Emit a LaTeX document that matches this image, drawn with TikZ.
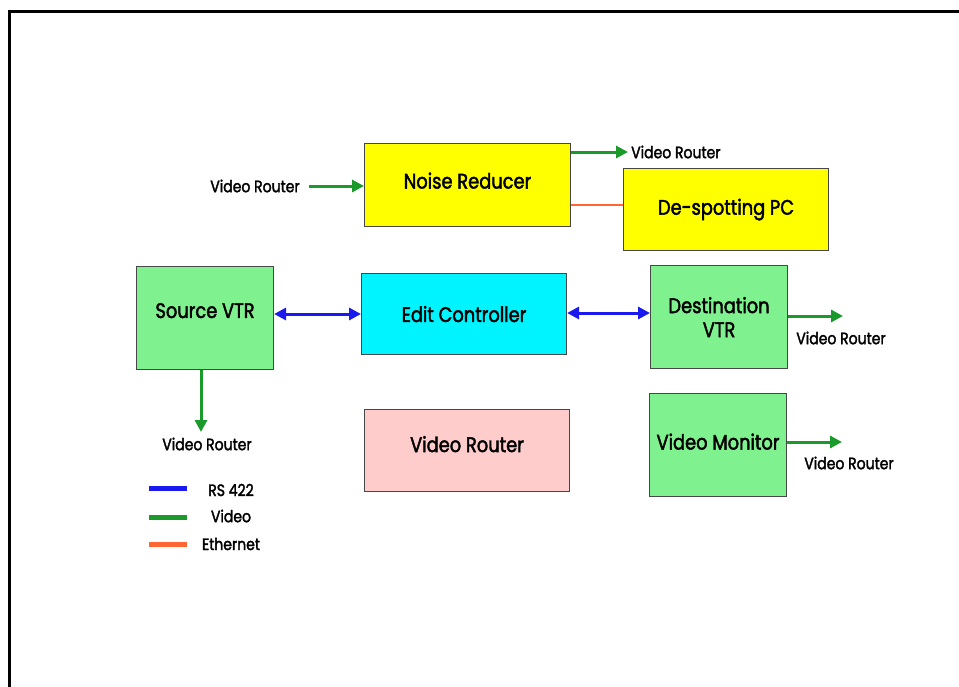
\documentclass[tikz,border=0pt]{standalone}
\usepackage{fontspec}
\setmainfont{Poppins}[FakeStretch=0.85, FakeBold=2]
\usetikzlibrary{arrows.meta}
\definecolor{boxyellow}{HTML}{FFFF00}
\definecolor{boxgreen}{HTML}{7FF28F}
\definecolor{boxcyan}{HTML}{00F4FF}
\definecolor{boxpink}{HTML}{FFCCCC}
\definecolor{vidgreen}{HTML}{1B9A2C}
\definecolor{rsblue}{HTML}{1A1AF0}
\definecolor{ethorange}{HTML}{FF6633}
\tikzset{
  unit/.style={draw=black!72, line width=1.1pt, inner sep=0pt, anchor=north west,
    font=\fontsize{21}{24}\selectfont, align=center},
  tag/.style={font=\fontsize{16.5}{18}\selectfont, inner sep=0pt},
  videolink/.style={draw=vidgreen, line width=3pt, -{Triangle[length=12pt,width=12pt]}},
  rslink/.style={draw=rsblue, line width=3pt, {Triangle[length=12pt,width=12pt]}-{Triangle[length=12pt,width=12pt]}},
  ethlink/.style={draw=ethorange, line width=2pt},
  legendline/.style={line width=5pt}
}
\begin{document}
\begin{tikzpicture}[x=1pt, y=-1pt]
  \useasboundingbox (0,0) rectangle (959,686);
  \fill[white] (0,0) rectangle (959,686);
  % outer frame, running off the right and bottom edges
  \begin{scope}
    \clip (0,0) rectangle (959,686);
    \draw[line width=3pt] (9,11) rectangle (990,720);
  \end{scope}

  % equipment boxes
  \node[unit, fill=boxyellow, minimum width=206pt, minimum height=83pt] (nr) at (364,143) {\raisebox{9pt}{Noise Reducer}};
  \node[unit, fill=boxyellow, minimum width=205pt, minimum height=82pt] (ds) at (623,168) {\raisebox{-8pt}{De-spotting PC}};
  \node[unit, fill=boxgreen, minimum width=137pt, minimum height=103pt] (src) at (136,266) {\raisebox{15pt}{Source VTR}};
  \node[unit, fill=boxcyan, minimum width=205pt, minimum height=81pt] (ec) at (361,273) {Edit Controller};
  \node[unit, fill=boxgreen, minimum width=137pt, minimum height=103pt] (dst) at (650,265) {Destination\\VTR};
  \node[unit, fill=boxpink, minimum width=205pt, minimum height=82pt] (vr) at (364,409) {\raisebox{13pt}{Video Router}};
  \node[unit, fill=boxgreen, minimum width=137pt, minimum height=103pt] (mon) at (649,393) {\raisebox{7pt}{Video Monitor}};

  % free labels for router feeds
  \node[tag] (inlbl) at (255,186) {Video Router};
  \node[tag, anchor=west] (nrlbl) at (631,152) {Video Router};
  \node[tag] (dstlbl) at (841,338) {Video Router};
  \node[tag] (srclbl) at (207,444) {Video Router};
  \node[tag] (monlbl) at (849,463) {Video Router};

  \coordinate (inbeg) at (309,186);
  \coordinate (dstend) at (843,316);
  \coordinate (monend) at (842,442);
  \coordinate (srcend) at (201,432);

  % video feeds
  \draw[videolink] (inbeg) -- (nr.west |- inbeg);
  \draw[videolink] (nr.east |- nrlbl.west) -- ([xshift=-3pt]nrlbl.west);
  \draw[videolink] (dst.east |- dstend) -- (dstend);
  \draw[videolink] (mon.east |- monend) -- (monend);
  \draw[videolink] (src.south -| srcend) -- (srcend);

  % ethernet
  \draw[ethlink] (nr.east |- 0,205) -- (ds.west |- 0,205);

  % RS 422 control
  \draw[rslink] (src.east |- 0,314) -- (ec.west |- 0,314);
  \draw[rslink] (ec.east |- 0,313) -- (dst.west |- 0,313);

  % legend
  \coordinate (lg1a) at (149,488); \coordinate (lg1b) at (187,488);
  \coordinate (lg2a) at (149,517); \coordinate (lg2b) at (187,517);
  \coordinate (lg3a) at (149,544); \coordinate (lg3b) at (187,544);
  \draw[legendline, rsblue] (lg1a) -- (lg1b);
  \draw[legendline, vidgreen] (lg2a) -- (lg2b);
  \draw[legendline, ethorange] (lg3a) -- (lg3b);
  \node[tag] (lgrs) at (231,490) {RS 422};
  \node[tag] (lgvid) at (231,516) {Video};
  \node[tag] (lgeth) at (231,544) {Ethernet};
\end{tikzpicture}
\end{document}
